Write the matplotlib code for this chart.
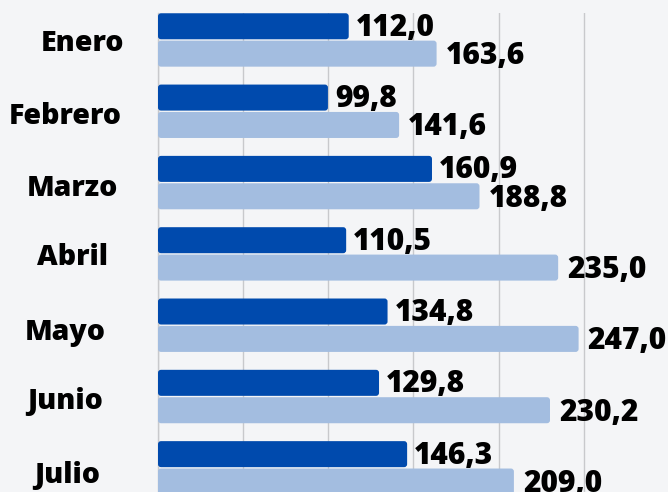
import matplotlib
matplotlib.use("Agg")
import matplotlib.pyplot as plt
from matplotlib.patches import FancyBboxPatch
import numpy as np

months = ["Enero", "Febrero", "Marzo", "Abril", "Mayo", "Junio", "Julio"]
serie_a = [112.0, 99.8, 160.9, 110.5, 134.8, 129.8, 146.3]
serie_b = [163.6, 141.6, 188.8, 235.0, 247.0, 230.2, 209.0]
grid_ticks = [0, 50, 100, 150, 200, 250]

# style
label_right_px = [124, 122, 118, 108, 106, 103, 100]
label_dy_px = [0, 2, 2, 0, 4, 2, 4]
dark = "#004aad"
light = "#a3bde0"
bg = "#f4f5f7"
W, H = 668, 492
plt.rcParams['font.family'] = ['Open Sans', 'DejaVu Sans']
WEIGHT = 800

fig = plt.figure(figsize=(W / 100, H / 100), dpi=100, facecolor=bg)
ax_left, ax_top, ax_bot = 158, 13, 494.8
ax = fig.add_axes([ax_left / W, 1 - ax_bot / H, 1 - ax_left / W, (ax_bot - ax_top) / H])
ax.set_facecolor(bg)

y = np.arange(len(months))
h = 0.365
off = 0.192
ba = ax.barh(y - off, serie_a, height=h, color=dark, zorder=3)
bb = ax.barh(y + off, serie_b, height=h, color=light, zorder=3)
ax.set_xlim(0, 299.5)
ax.set_ylim(6.378, -0.378)

# rounded corners
px_x = (W - ax_left) / 299.5
px_y = (ax_bot - ax_top) / 6.756
r_px = 3.0
for bars in (ba, bb):
    for p in bars:
        x0, y0 = p.get_x(), p.get_y()
        w, hh = p.get_width(), p.get_height()
        fb = FancyBboxPatch((x0, y0), w, hh,
                            boxstyle=f"round,pad=0,rounding_size={r_px / px_x}",
                            mutation_aspect=px_x / px_y,
                            facecolor=p.get_facecolor(), edgecolor="none", zorder=3)
        p.set_visible(False)
        ax.add_patch(fb)

def fmt(v):
    return f"{v:.1f}".replace(".", ",")

for i in range(len(months)):
    ax.text(serie_a[i] + 7 / px_x, y[i] - off - 2 / px_y, fmt(serie_a[i]), va="center_baseline",
            ha="left", fontsize=21.5, fontweight=WEIGHT, color="black", zorder=4)
    ax.text(serie_b[i] + 9 / px_x, y[i] + off - 1 / px_y, fmt(serie_b[i]), va="center_baseline",
            ha="left", fontsize=21.5, fontweight=WEIGHT, color="black", zorder=4)

ax.set_xticks(grid_ticks)
ax.grid(axis="x", color="#c8c9cc", linewidth=1, zorder=0)
ax.tick_params(axis="both", length=0, labelbottom=False, labelleft=False)
for s in ["top", "right", "bottom"]:
    ax.spines[s].set_visible(False)
ax.spines["left"].set_color("#c8c9cc")
ax.spines["left"].set_linewidth(1)

for i, m in enumerate(months):
    cy = 40 + i * 71.3 + label_dy_px[i]
    fig.text(label_right_px[i] / W, 1 - cy / H, m, ha="right", va="center_baseline",
             fontsize=20.5, fontweight=WEIGHT, color="black")

fig.savefig("out.png", dpi=100, facecolor=bg)
